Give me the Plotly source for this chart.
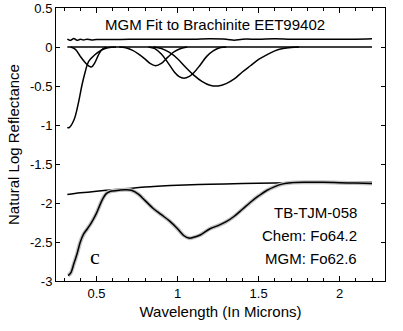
"""MGM fit to Brachinite EET99402 - recreated with Plotly."""

import plotly.graph_objects as go

# --- data ------------------------------------------------------------------
# residual (offset +0.1) and zero baseline
resid_x = [0.32, 0.34, 0.36, 0.38, 0.40, 0.42, 0.44, 0.47, 0.50, 0.60, 0.70,
           0.80, 0.90, 1.00, 1.10, 1.20, 1.30, 1.35, 1.40, 1.50, 1.60, 1.70,
           1.80, 1.90, 2.00, 2.10, 2.20]
resid_y = [0.10, 0.085, 0.11, 0.085, 0.10, 0.09, 0.10, 0.09, 0.095, 0.095,
           0.10, 0.10, 0.10, 0.10, 0.10, 0.105, 0.10, 0.088, 0.10, 0.10,
           0.105, 0.10, 0.10, 0.10, 0.10, 0.10, 0.105]
base_x = [0.32, 2.20]
base_y = [0.0, 0.0]

# individual Gaussian bands
uv_x = [0.32, 0.33, 0.36, 0.39, 0.41, 0.43, 0.45, 0.49, 0.53, 0.57, 0.62]
uv_y = [-1.03, -1.035, -0.94, -0.70, -0.49, -0.32, -0.19, -0.10, -0.04,
        -0.01, 0.0]

b1_x = [0.34, 0.37, 0.40, 0.43, 0.45, 0.47, 0.49, 0.51, 0.53, 0.56]
b1_y = [0.0, -0.03, -0.12, -0.20, -0.24, -0.255, -0.20, -0.11, -0.04, 0.0]

b2_x = [0.64, 0.68, 0.72, 0.76, 0.80, 0.83, 0.865, 0.90, 0.94, 0.98, 1.02,
        1.06]
b2_y = [0.0, -0.01, -0.04, -0.09, -0.155, -0.21, -0.24, -0.21, -0.13, -0.06,
        -0.02, 0.0]

b3_x = [0.82, 0.86, 0.90, 0.94, 0.98, 1.01, 1.04, 1.07, 1.10, 1.14, 1.18,
        1.22, 1.26, 1.30]
b3_y = [0.0, -0.02, -0.09, -0.20, -0.32, -0.38, -0.40, -0.38, -0.33, -0.23,
        -0.12, -0.05, -0.01, 0.0]

b4_x = [0.85, 0.90, 0.95, 1.00, 1.05, 1.10, 1.15, 1.20, 1.25, 1.30, 1.35,
        1.40, 1.45, 1.50, 1.55, 1.60, 1.65, 1.70, 1.75]
b4_y = [0.0, -0.02, -0.07, -0.15, -0.26, -0.36, -0.44, -0.49, -0.50, -0.47,
        -0.41, -0.32, -0.24, -0.16, -0.10, -0.05, -0.02, -0.005, 0.0]

# continuum
cont_x = [0.32, 0.40, 0.50, 0.60, 0.70, 0.80, 0.90, 1.00, 1.20, 1.40, 1.60,
          1.80, 2.00, 2.20]
cont_y = [-1.892, -1.87, -1.848, -1.83, -1.815, -1.795, -1.783, -1.773,
          -1.76, -1.75, -1.742, -1.737, -1.735, -1.733]

# measured spectrum (gray) with modelled fit (black) on top
spec_x = [0.325, 0.34, 0.36, 0.38, 0.40, 0.42, 0.44, 0.46, 0.48, 0.50, 0.52,
          0.54, 0.56, 0.58, 0.60, 0.64, 0.68, 0.72, 0.76, 0.80, 0.85, 0.90,
          0.95, 1.00, 1.04, 1.07, 1.10, 1.14, 1.20, 1.25, 1.30, 1.35, 1.40,
          1.45, 1.50, 1.55, 1.60, 1.65, 1.70, 1.80, 1.90, 2.00, 2.10, 2.20]
spec_y = [-2.93, -2.90, -2.78, -2.65, -2.50, -2.40, -2.34, -2.28, -2.21,
          -2.13, -2.03, -1.94, -1.88, -1.855, -1.845, -1.835, -1.83, -1.84,
          -1.89, -1.97, -2.07, -2.15, -2.23, -2.33, -2.42, -2.45, -2.44,
          -2.41, -2.33, -2.29, -2.24, -2.17, -2.08, -1.99, -1.91, -1.84,
          -1.79, -1.755, -1.74, -1.735, -1.735, -1.74, -1.745, -1.75]

x_ticks = [0.5, 1, 1.5, 2]
y_ticks = [0.5, 0, -0.5, -1, -1.5, -2, -2.5, -3]

FONT = "Arial, Liberation Sans, sans-serif"

fig = go.Figure()

black = dict(color="black", width=1.5, shape="spline", smoothing=1)

for xs, ys in [(resid_x, resid_y), (base_x, base_y), (uv_x, uv_y),
               (b1_x, b1_y), (b2_x, b2_y), (b3_x, b3_y), (b4_x, b4_y),
               (cont_x, cont_y)]:
    fig.add_trace(go.Scatter(x=xs, y=ys, mode="lines", line=black,
                             hoverinfo="skip"))

# gray data underneath the fit
fig.add_trace(go.Scatter(x=spec_x, y=spec_y, mode="lines",
                         line=dict(color="#c0c0c0", width=4,
                                   shape="spline", smoothing=1)))
fig.add_trace(go.Scatter(x=spec_x, y=spec_y, mode="lines", line=black))

fig.add_annotation(x=1.23, y=0.29, text="MGM Fit to Brachinite EET99402",
                   showarrow=False, font=dict(size=15, color="black"))
fig.add_annotation(x=2.12, y=-2.124, text="TB-TJM-058", xanchor="right",
                   showarrow=False, font=dict(size=15, color="black"))
fig.add_annotation(x=2.12, y=-2.42, text="Chem: Fo64.2", xanchor="right",
                   showarrow=False, font=dict(size=15, color="black"))
fig.add_annotation(x=2.12, y=-2.715, text="MGM: Fo62.6", xanchor="right",
                   showarrow=False, font=dict(size=15, color="black"))
fig.add_annotation(x=0.493, y=-2.685, text="c", showarrow=False,
                   font=dict(size=22, color="black",
                             family="Liberation Serif, Times New Roman, serif"))

fig.update_layout(
    width=403,
    height=331,
    margin=dict(l=56, r=18, t=8, b=50),
    plot_bgcolor="white",
    paper_bgcolor="white",
    showlegend=False,
    font=dict(family=FONT, size=13, color="black"),
    xaxis=dict(
        range=[0.25, 2.28],
        automargin=False,
        tickvals=x_ticks,
        ticktext=["0.5", "1", "1.5", "2"],
        ticks="inside",
        ticklen=5,
        tickcolor="black",
        minor=dict(dtick=0.1, tick0=0, ticks="inside", ticklen=3,
                   tickcolor="black"),
        showline=True,
        linecolor="black",
        linewidth=1,
        mirror="ticks",
        showgrid=False,
        zeroline=False,
        title=dict(text="Wavelength (In Microns)", font=dict(size=15),
                   standoff=6),
    ),
    yaxis=dict(
        range=[-3, 0.5],
        automargin=False,
        tickvals=y_ticks,
        ticktext=["0.5", "0", "-0.5", "-1", "-1.5", "-2", "-2.5", "-3"],
        ticks="inside",
        ticklen=4,
        tickcolor="black",
        showline=True,
        linecolor="black",
        linewidth=1,
        mirror="ticks",
        showgrid=False,
        zeroline=False,
        title=dict(text="Natural Log Reflectance", font=dict(size=15),
                   standoff=6),
    ),
)

# the page's default body margin would shift the figure by 8px
fig.write_html("out.html", config={"displayModeBar": False},
               post_script="document.body.style.margin='0';")
